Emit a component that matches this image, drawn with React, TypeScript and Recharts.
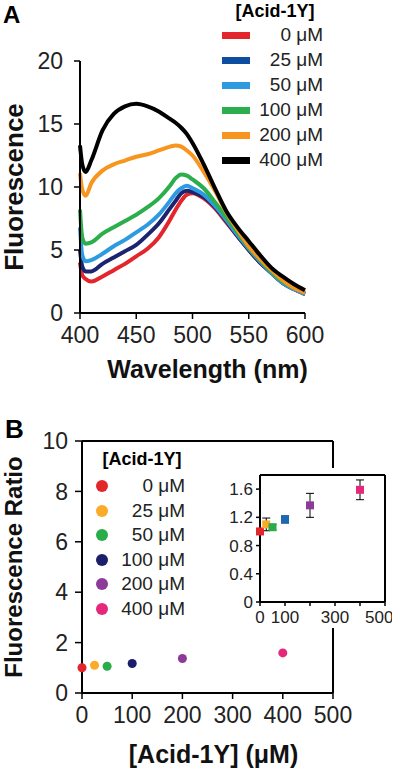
import {
  LineChart,
  Line,
  XAxis,
  YAxis,
  ScatterChart,
  Scatter,
  ZAxis,
  Cell,
  ErrorBar,
  ReferenceLine,
} from "recharts";

// panel A: emission spectra
const wavelengths = [400, 402, 405, 410, 420, 430, 440, 450, 460, 470, 480, 485, 490, 495, 500, 510, 520, 530, 540, 550, 560, 570, 580, 590, 600];
const acid0 = [4.0, 3.0, 2.7, 2.5, 2.9, 3.4, 3.9, 4.5, 5.1, 6.0, 7.4, 8.2, 8.9, 9.4, 9.5, 9.1, 8.3, 7.2, 6.1, 5.0, 4.0, 3.2, 2.4, 1.9, 1.5];
const acid25 = [5.0, 3.7, 3.3, 3.3, 3.9, 4.4, 4.9, 5.4, 6.2, 7.1, 8.3, 8.9, 9.5, 9.7, 9.6, 9.2, 8.4, 7.3, 6.1, 5.0, 4.0, 3.2, 2.4, 1.9, 1.5];
const acid50 = [6.8, 4.6, 4.1, 4.2, 4.7, 5.3, 5.8, 6.4, 7.0, 7.8, 8.9, 9.5, 9.9, 10.1, 9.9, 9.4, 8.5, 7.4, 6.2, 5.1, 4.1, 3.2, 2.4, 1.9, 1.5];
const acid100 = [8.2, 6.0, 5.5, 5.6, 6.3, 6.8, 7.3, 7.8, 8.4, 9.1, 10.1, 10.7, 11.0, 10.9, 10.6, 9.9, 8.8, 7.6, 6.4, 5.2, 4.2, 3.3, 2.5, 2.0, 1.6];
const acid200 = [11.1, 9.8, 9.3, 10.3, 11.3, 11.8, 12.1, 12.4, 12.6, 12.9, 13.2, 13.3, 13.2, 12.9, 12.5, 11.2, 9.7, 8.0, 6.6, 5.3, 4.3, 3.4, 2.6, 2.0, 1.6];
const acid400 = [13.3, 11.8, 11.2, 12.1, 14.5, 15.8, 16.4, 16.6, 16.4, 16.0, 15.4, 15.1, 14.7, 14.2, 13.5, 11.8, 9.9, 8.1, 6.8, 5.7, 4.6, 3.6, 2.9, 2.3, 1.8];
const spectra = [acid0, acid25, acid50, acid100, acid200, acid400];

// panel B: ratio vs concentration
const concentrations = [0, 25, 50, 100, 200, 400];
const concLabels = ["0 μM", "25 μM", "50 μM", "100 μM", "200 μM", "400 μM"];
const ratios = [1.0, 1.1, 1.06, 1.17, 1.37, 1.59];
const ratioErrors = [0.03, 0.09, 0.04, 0.05, 0.17, 0.14];

const specTicksX = [400, 450, 500, 550, 600];
const specTicksY = [0, 5, 10, 15, 20];
const ratioTicksX = [0, 100, 200, 300, 400, 500];
const ratioTicksY = [0, 2, 4, 6, 8, 10];
const insetTicksY = [0, 0.4, 0.8, 1.2, 1.6];

const lineColors = ["#e3262b", "#1c2470", "#2e9be0", "#2bae4b", "#f7951e", "#000000"];
const lineLegendColors = ["#e3262b", "#0d4f9e", "#2e9be0", "#2bae4b", "#f7951e", "#000000"];
const dotColors = ["#e3262b", "#fbab2a", "#28ad4a", "#1b1f6b", "#8d3b98", "#e4287a"];
const insetColors = ["#e3262b", "#fbab2a", "#28ad4a", "#1b67b8", "#8d3b98", "#e4287a"];

const font = "'Liberation Sans', Arial, sans-serif";
const tickStyle = { fill: "#222", fontSize: 23, fontFamily: font };
const titleStyle = { fill: "#111", fontSize: 25, fontWeight: 700, fontFamily: font };

const specData = wavelengths.map((wl, i) => {
  const row: Record<string, number> = { wl };
  spectra.forEach((s, j) => (row["c" + j] = s[i]));
  return row;
});

const ratioData = concentrations.map((conc, i) => ({ conc, ratio: ratios[i], err: ratioErrors[i] }));

function LineLegend() {
  return (
    <div style={{ position: "absolute", left: 215, top: 0, width: 120, fontFamily: font }}>
      <div style={{ position: "absolute", left: 0, top: 1, width: 120, textAlign: "center", fontWeight: 700, fontSize: 18 }}>
        [Acid-1Y]
      </div>
      {concLabels.map((lbl, i) => (
        <div key={lbl} style={{ position: "absolute", left: 0, top: 35 + i * 25 - 12, height: 24, width: 120 }}>
          <div style={{ position: "absolute", left: 7, top: 9, width: 28, height: 7, background: lineLegendColors[i] }} />
          <div style={{ position: "absolute", left: 38, top: 0, width: 70, textAlign: "right", fontSize: 19, lineHeight: "24px", color: "#222" }}>
            {lbl}
          </div>
        </div>
      ))}
    </div>
  );
}

function DotLegend() {
  return (
    <div style={{ position: "absolute", left: 90, top: 445, width: 110, fontFamily: font }}>
      <div style={{ position: "absolute", left: 0, top: 4, width: 104, textAlign: "center", fontWeight: 700, fontSize: 18 }}>
        [Acid-1Y]
      </div>
      {concLabels.map((lbl, i) => (
        <div key={lbl} style={{ position: "absolute", left: 0, top: 41 + i * 24.6 - 12, height: 24, width: 110 }}>
          <div style={{ position: "absolute", left: 6, top: 6, width: 12, height: 12, borderRadius: "50%", background: dotColors[i] }} />
          <div style={{ position: "absolute", left: 25, top: 0, width: 70, textAlign: "right", fontSize: 19, lineHeight: "24px", color: "#222" }}>
            {lbl}
          </div>
        </div>
      ))}
    </div>
  );
}

export default function App() {
  return (
    <div style={{ position: "absolute", left: 0, top: 0, width: 400, height: 770, background: "#fff", fontFamily: font }}>
      <div style={{ position: "absolute", left: 3, top: 1, fontSize: 24, fontWeight: 700 }}>A</div>
      <div style={{ position: "absolute", left: 5, top: 414, fontSize: 26, fontWeight: 700 }}>B</div>

      <div style={{ position: "absolute", left: 0, top: 0 }}>
        <LineChart width={400} height={390} data={specData} margin={{ top: 61, right: 95, bottom: 12, left: 0 }}>
          <XAxis
            dataKey="wl"
            type="number"
            domain={[400, 600]}
            ticks={specTicksX}
            tickSize={6}
            tickMargin={8}
            tick={tickStyle}
            height={65}
            axisLine={{ stroke: "#000", strokeWidth: 2 }}
            tickLine={{ stroke: "#000", strokeWidth: 1.5 }}
            label={{ value: "Wavelength (nm)", position: "insideBottom", offset: 0, dx: 15, style: titleStyle }}
          />
          <YAxis
            type="number"
            domain={[0, 20]}
            ticks={specTicksY}
            width={80}
            tickSize={6}
            tickMargin={11}
            tick={tickStyle}
            axisLine={{ stroke: "#000", strokeWidth: 2 }}
            tickLine={{ stroke: "#000", strokeWidth: 1.5 }}
            label={{ value: "Fluorescence", angle: -90, position: "insideLeft", offset: 14, style: { ...titleStyle, fontSize: 26, textAnchor: "middle" } }}
          />
          {spectra.map((_, j) => (
            <Line
              key={j}
              type="monotone"
              dataKey={"c" + j}
              stroke={lineColors[j]}
              strokeWidth={4}
              dot={false}
              isAnimationActive={false}
            />
          ))}
        </LineChart>
      </div>
      <LineLegend />

      <div style={{ position: "absolute", left: 0, top: 390 }}>
        <ScatterChart width={400} height={380} margin={{ top: 51, right: 67, bottom: 7, left: 0 }}>
          <XAxis
            dataKey="conc"
            type="number"
            domain={[0, 500]}
            ticks={ratioTicksX}
            tickSize={6}
            tickMargin={8}
            tick={tickStyle}
            height={70}
            axisLine={{ stroke: "#000", strokeWidth: 2 }}
            tickLine={{ stroke: "#000", strokeWidth: 1.5 }}
            label={{ value: "[Acid-1Y] (μM)", position: "insideBottom", offset: 0, dx: 6, style: titleStyle }}
          />
          <YAxis
            dataKey="ratio"
            type="number"
            domain={[0, 10]}
            ticks={ratioTicksY}
            width={82}
            tickSize={7}
            tickMargin={7}
            tick={tickStyle}
            axisLine={{ stroke: "#000", strokeWidth: 2 }}
            tickLine={{ stroke: "#000", strokeWidth: 1.5 }}
            label={{ value: "Fluorescence Ratio", angle: -90, position: "insideLeft", offset: 13, style: { ...titleStyle, fontSize: 24, textAnchor: "middle" } }}
          />
          <ZAxis range={[150, 150]} />
          <ReferenceLine y={10} stroke="#000" strokeWidth={2} />
          <ReferenceLine x={500} stroke="#000" strokeWidth={2} />
          <Scatter data={ratioData} shape="circle" isAnimationActive={false}>
            {ratioData.map((d, i) => (
              <Cell key={d.conc} fill={dotColors[i]} />
            ))}
          </Scatter>
        </ScatterChart>
      </div>
      <DotLegend />

      <div style={{ position: "absolute", left: 220, top: 468, width: 172, height: 160, background: "#fff" }}>
        <ScatterChart width={172} height={160} margin={{ top: 7, right: 7, bottom: 0, left: 0 }}>
          <XAxis
            dataKey="conc"
            type="number"
            domain={[0, 500]}
            ticks={ratioTicksX}
            tickFormatter={(v: number) => (v === 200 || v === 400 ? "" : String(v))}
            tickSize={4}
            tickMargin={5}
            tick={{ ...tickStyle, fontSize: 17 }}
            height={26}
            axisLine={{ stroke: "#000", strokeWidth: 2 }}
            tickLine={{ stroke: "#000", strokeWidth: 1.5 }}
          />
          <YAxis
            dataKey="ratio"
            type="number"
            domain={[0, 1.8]}
            ticks={insetTicksY}
            tickFormatter={(v: number) => (v === 0 ? "0" : v.toFixed(1))}
            width={40}
            tickSize={4}
            tickMargin={3}
            tick={{ ...tickStyle, fontSize: 17 }}
            axisLine={{ stroke: "#000", strokeWidth: 2 }}
            tickLine={{ stroke: "#000", strokeWidth: 1.5 }}
          />
          <ZAxis range={[120, 120]} />
          <ReferenceLine y={1.8} stroke="#000" strokeWidth={2} />
          <ReferenceLine x={500} stroke="#000" strokeWidth={2} />
          <Scatter data={ratioData} shape="square" isAnimationActive={false}>
            {ratioData.map((d, i) => (
              <Cell key={d.conc} fill={insetColors[i]} />
            ))}
            <ErrorBar dataKey="err" direction="y" width={4} stroke="#000" strokeWidth={1} />
          </Scatter>
        </ScatterChart>
      </div>
    </div>
  );
}
